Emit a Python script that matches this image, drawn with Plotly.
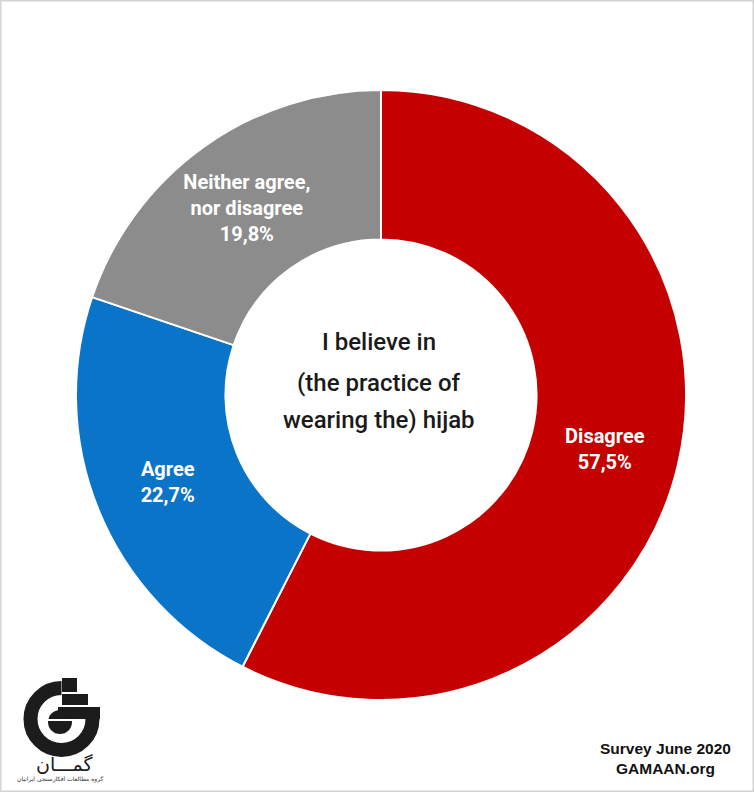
import plotly.graph_objects as go

# ---- data ----
labels = ["Disagree", "Agree", "Neither agree,<br>nor disagree"]
values = [57.5, 22.7, 19.8]
value_text = ["57,5%", "22,7%", "19,8%"]
colors = ["#C40000", "#0A74C8", "#8C8C8C"]
center_lines = ["I believe in", "(the practice of", "wearing the) hijab"]
footer = "Survey June 2020<br>GAMAAN.org"
logo_name = "گمـــان"
logo_sub = "گروه مطالعات افکارسنجی ایرانیان"

W, H = 754, 792


def px(x):
    return x / W


def py(y):
    return 1 - y / H


fig = go.Figure()
fig.add_trace(go.Pie(
    labels=labels,
    values=values,
    text=value_text,
    texttemplate="<b>%{label}<br>%{text}</b>",
    textposition="inside",
    insidetextorientation="horizontal",
    textfont=dict(family="Roboto", size=20, color="white"),
    marker=dict(colors=colors, line=dict(color="white", width=2)),
    hole=0.51,
    sort=False,
    direction="clockwise",
    rotation=0,
    showlegend=False,
    hoverinfo="skip",
    domain=dict(x=[px(76), px(686)], y=[py(700), py(90)]),
))

annotations = []
for line, yy in zip(center_lines, [342, 383, 420]):
    annotations.append(dict(
        text=line, x=px(379), y=py(yy), xref="paper", yref="paper",
        showarrow=False, xanchor="center", yanchor="middle",
        font=dict(family="Roboto", size=24, color="#1a1a1a", weight=500),
    ))
annotations.append(dict(
    text="<b>" + footer + "</b>", x=px(665), y=py(758), xref="paper", yref="paper",
    showarrow=False, xanchor="center", yanchor="middle", align="center",
    font=dict(family="Liberation Sans", size=15.5, color="#111111"),
))
annotations.append(dict(
    text=logo_name, x=px(64), y=py(764), xref="paper", yref="paper",
    showarrow=False, xanchor="center", yanchor="middle",
    font=dict(family="DejaVu Sans", size=19, color="#1c1c1c"),
))
annotations.append(dict(
    text=logo_sub, x=px(60), y=py(779), xref="paper", yref="paper",
    showarrow=False, xanchor="center", yanchor="middle",
    font=dict(family="DejaVu Sans", size=6, color="#333333"),
))

shapes = []
# frame
shapes.append(dict(type="rect", xref="paper", yref="paper", x0=0, x1=1, y0=0, y1=1,
                   line=dict(color="#d4d4d4", width=3), fillcolor="rgba(0,0,0,0)"))

# logo: ring
cx, cy, r = 61.5, 719, 31
shapes.append(dict(type="circle", xref="paper", yref="paper",
                   x0=px(cx - r), x1=px(cx + r), y0=py(cy + r), y1=py(cy - r),
                   line=dict(color="#1c1c1c", width=14), fillcolor="rgba(0,0,0,0)"))
# clear top-right quadrant
shapes.append(dict(type="rect", xref="paper", yref="paper",
                   x0=px(cx), x1=px(cx + 42), y0=py(cy - 1), y1=py(cy - 42),
                   line=dict(width=0), fillcolor="white"))
# stepped blocks
for (x0, x1, y0, y1) in [(62, 77, 678, 692), (62, 88, 694, 705), (58, 100, 707, 719)]:
    shapes.append(dict(type="rect", xref="paper", yref="paper",
                       x0=px(x0), x1=px(x1), y0=py(y1), y1=py(y0),
                       line=dict(width=0), fillcolor="#1c1c1c"))
# inner dot
dr = 12
shapes.append(dict(type="circle", xref="paper", yref="paper",
                   x0=px(60 - dr), x1=px(60 + dr), y0=py(722 + dr), y1=py(722 - dr),
                   line=dict(width=0), fillcolor="#1c1c1c"))
shapes.append(dict(type="rect", xref="paper", yref="paper",
                   x0=px(46), x1=px(75), y0=py(721), y1=py(719),
                   line=dict(width=0), fillcolor="white"))

fig.update_layout(
    width=W, height=H,
    margin=dict(l=0, r=0, t=0, b=0),
    paper_bgcolor="white", plot_bgcolor="white",
    annotations=annotations, shapes=shapes,
)

fig.write_html("out.html", config={"displayModeBar": False},
               post_script="document.body.style.margin='0';")
